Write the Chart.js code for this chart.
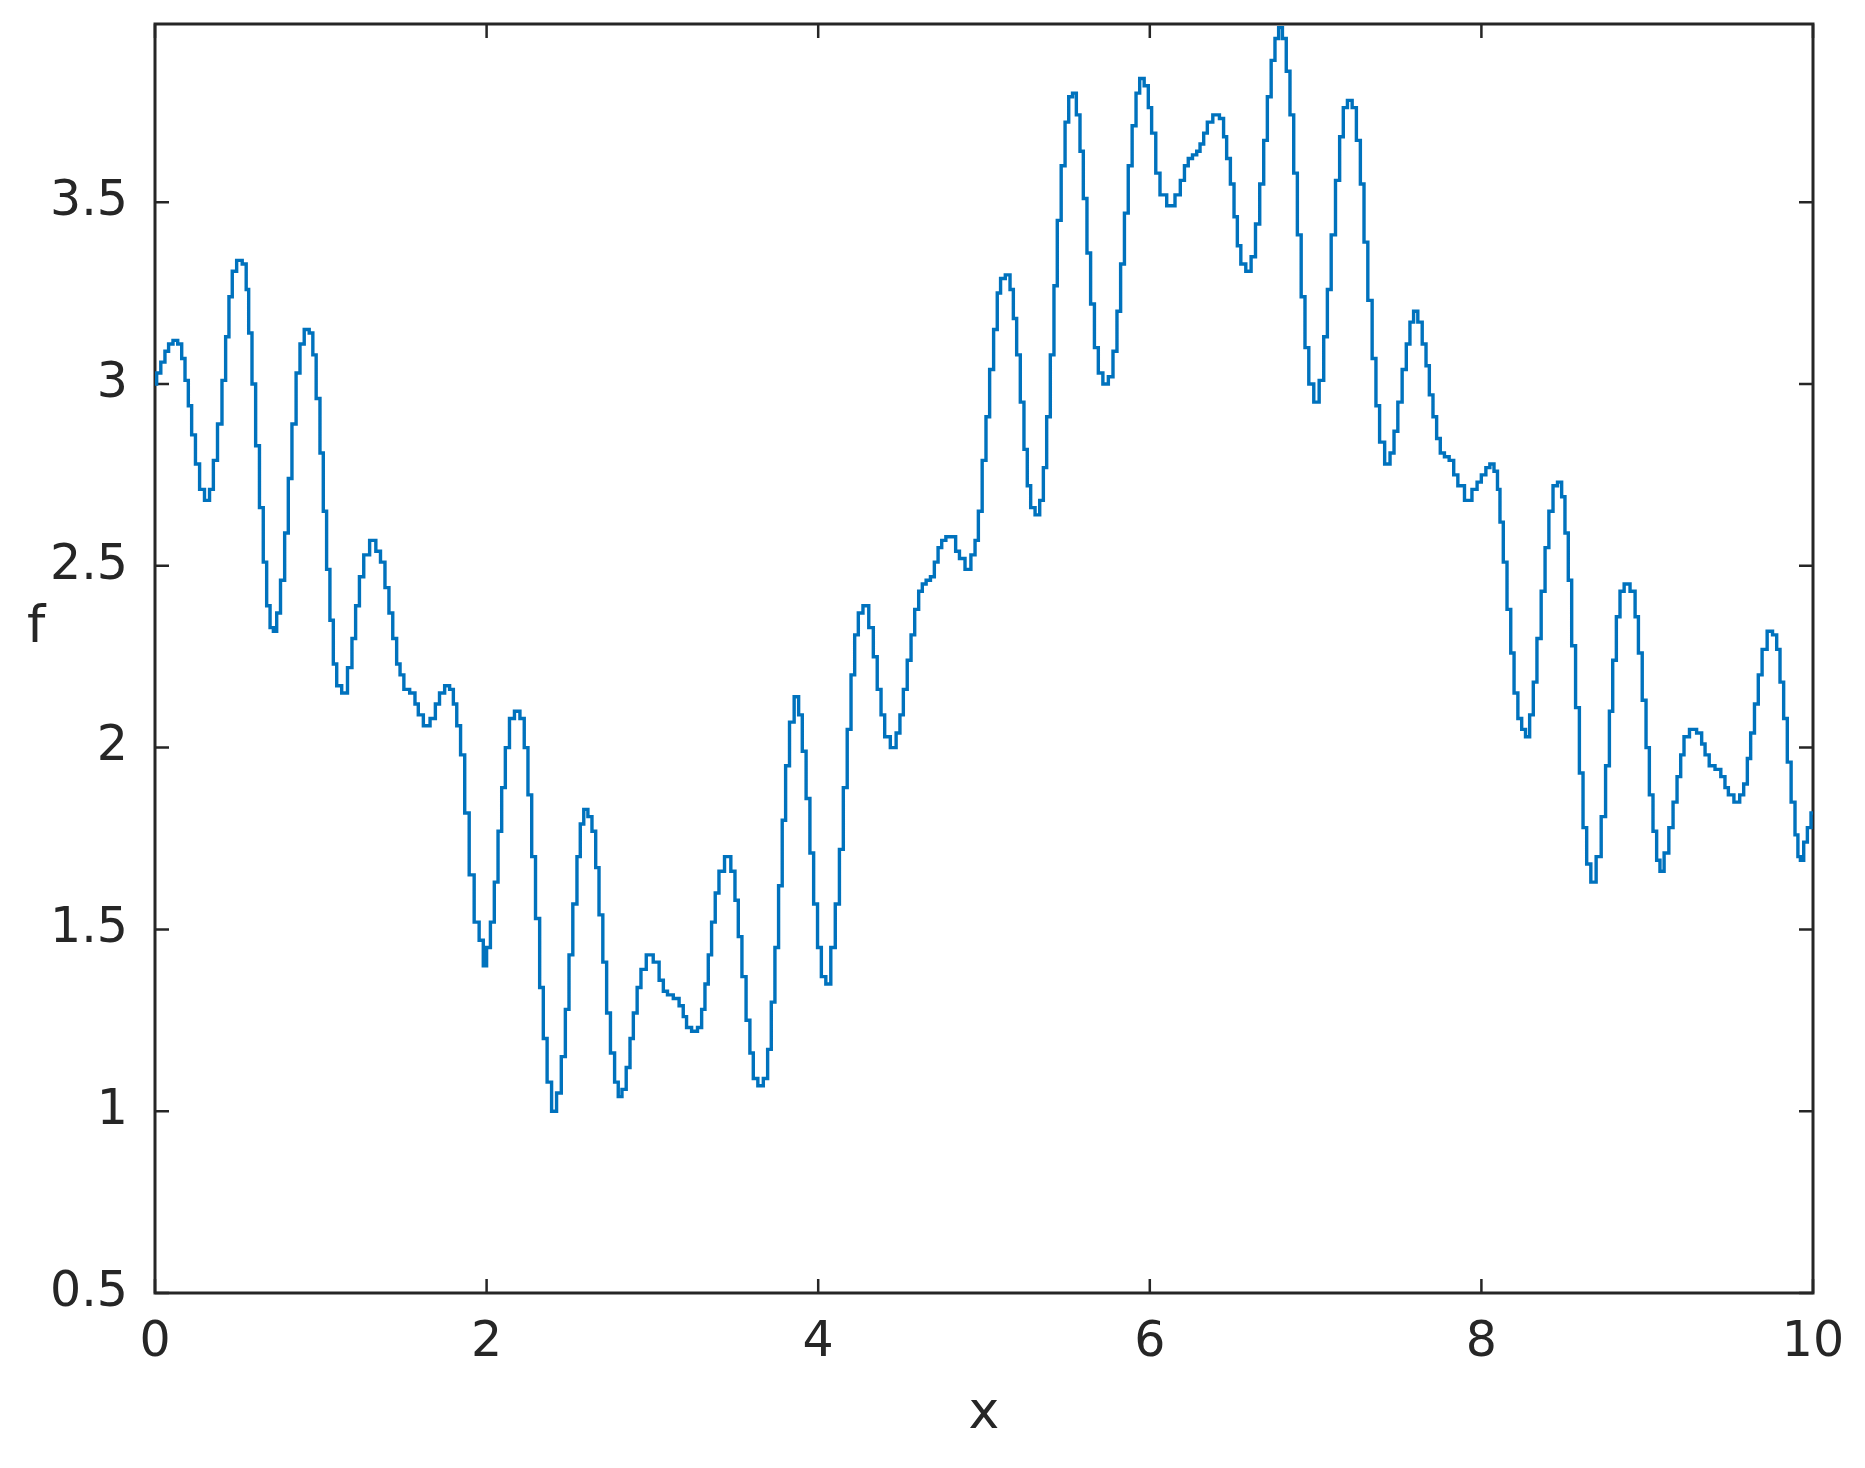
<!DOCTYPE html>
<html>
<head>
<meta charset="utf-8">
<script src="https://cdn.jsdelivr.net/npm/chart.js@4.4.1/dist/chart.umd.min.js"></script>
<style>
  html, body { margin: 0; padding: 0; background: #fff; }
  #wrap { width: 1865px; height: 1468px; }
</style>
</head>
<body>
<div id="wrap"><canvas id="plot" width="1865" height="1468"></canvas></div>
<script>
// x positions (peaks, troughs and points between)
let xValues = [
    0, 0.02, 0.05, 0.07, 0.094, 0.123, 0.151, 0.171, 0.191, 0.211,
    0.231, 0.257, 0.281, 0.316, 0.342, 0.362, 0.392, 0.416, 0.436, 0.456,
    0.476, 0.509, 0.543, 0.557, 0.573, 0.597, 0.617, 0.643, 0.663, 0.684,
    0.704, 0.724, 0.744, 0.77, 0.794, 0.814, 0.838, 0.864, 0.885, 0.915,
    0.945, 0.959, 0.985, 1.005, 1.025, 1.045, 1.065, 1.086, 1.106, 1.146,
    1.176, 1.2, 1.22, 1.246, 1.272, 1.317, 1.347, 1.373, 1.401, 1.421,
    1.447, 1.468, 1.488, 1.514, 1.558, 1.578, 1.598, 1.639, 1.679, 1.703,
    1.729, 1.765, 1.789, 1.81, 1.83, 1.856, 1.88, 1.91, 1.94, 1.97,
    1.99, 2.01, 2.036, 2.057, 2.081, 2.101, 2.125, 2.151, 2.185, 2.217,
    2.237, 2.262, 2.282, 2.308, 2.332, 2.352, 2.378, 2.406, 2.438, 2.463,
    2.487, 2.507, 2.533, 2.557, 2.573, 2.599, 2.623, 2.648, 2.668, 2.688,
    2.714, 2.734, 2.76, 2.784, 2.804, 2.829, 2.855, 2.875, 2.895, 2.921,
    2.941, 2.985, 3.025, 3.056, 3.076, 3.106, 3.146, 3.176, 3.196, 3.216,
    3.257, 3.287, 3.307, 3.327, 3.347, 3.367, 3.391, 3.412, 3.458, 3.488,
    3.508, 3.528, 3.552, 3.578, 3.598, 3.619, 3.653, 3.685, 3.705, 3.729,
    3.749, 3.773, 3.793, 3.814, 3.84, 3.87, 3.894, 3.914, 3.94, 3.96,
    3.985, 4.007, 4.031, 4.061, 4.091, 4.115, 4.141, 4.162, 4.188, 4.208,
    4.232, 4.252, 4.288, 4.322, 4.343, 4.369, 4.389, 4.413, 4.457, 4.483,
    4.503, 4.524, 4.55, 4.57, 4.594, 4.618, 4.638, 4.664, 4.69, 4.711,
    4.735, 4.755, 4.785, 4.819, 4.839, 4.865, 4.906, 4.936, 4.956, 4.976,
    5.002, 5.022, 5.046, 5.07, 5.09, 5.11, 5.147, 5.167, 5.187, 5.207,
    5.231, 5.251, 5.271, 5.292, 5.324, 5.348, 5.368, 5.388, 5.412, 5.432,
    5.452, 5.479, 5.499, 5.523, 5.545, 5.569, 5.589, 5.609, 5.633, 5.653,
    5.679, 5.70, 5.734, 5.766, 5.79, 5.814, 5.834, 5.86, 5.88, 5.907,
    5.927, 5.951, 5.981, 6.001, 6.021, 6.051, 6.072, 6.132, 6.172, 6.196,
    6.222, 6.242, 6.273, 6.293, 6.313, 6.337, 6.357, 6.403, 6.437, 6.453,
    6.474, 6.498, 6.518, 6.538, 6.56, 6.598, 6.624, 6.651, 6.675, 6.699,
    6.719, 6.745, 6.765, 6.789, 6.811, 6.835, 6.856, 6.88, 6.90, 6.926,
    6.946, 6.972, 7.006, 7.037, 7.061, 7.081, 7.107, 7.133, 7.157, 7.177,
    7.207, 7.234, 7.258, 7.282, 7.302, 7.328, 7.354, 7.374, 7.398, 7.435,
    7.463, 7.483, 7.509, 7.535, 7.559, 7.579, 7.603, 7.63, 7.656, 7.676,
    7.696, 7.72, 7.74, 7.764, 7.79, 7.821, 7.845, 7.871, 7.925, 7.961,
    7.987, 8.012, 8.042, 8.06, 8.092, 8.102, 8.122, 8.142, 8.167, 8.187,
    8.207, 8.233, 8.253, 8.279, 8.303, 8.323, 8.347, 8.374, 8.394, 8.42,
    8.444, 8.474, 8.494, 8.514, 8.534, 8.555, 8.581, 8.601, 8.625, 8.645,
    8.675, 8.709, 8.736, 8.762, 8.782, 8.802, 8.826, 8.846, 8.876, 8.917,
    8.937, 8.957, 8.983, 9.003, 9.023, 9.047, 9.067, 9.087, 9.117, 9.144,
    9.168, 9.192, 9.212, 9.232, 9.278, 9.318, 9.339, 9.359, 9.389, 9.429,
    9.459, 9.479, 9.50, 9.546, 9.57, 9.594, 9.614, 9.634, 9.66, 9.68,
    9.706, 9.741, 9.771, 9.791, 9.811, 9.835, 9.855, 9.881, 9.902, 9.916,
    9.932, 9.956, 9.976, 10
];

let fValues = [
    3.00, 3.03, 3.06, 3.09, 3.11, 3.12, 3.11, 3.07, 3.01, 2.94,
    2.86, 2.78, 2.71, 2.68, 2.71, 2.79, 2.89, 3.01, 3.13, 3.24,
    3.31, 3.34, 3.33, 3.26, 3.14, 3.00, 2.83, 2.66, 2.51, 2.39,
    2.33, 2.32, 2.37, 2.46, 2.59, 2.74, 2.89, 3.03, 3.11, 3.15,
    3.14, 3.08, 2.96, 2.81, 2.65, 2.49, 2.35, 2.23, 2.17, 2.15,
    2.22, 2.30, 2.39, 2.47, 2.53, 2.57, 2.54, 2.51, 2.44, 2.37,
    2.30, 2.23, 2.20, 2.16, 2.15, 2.12, 2.09, 2.06, 2.08, 2.12,
    2.15, 2.17, 2.16, 2.12, 2.06, 1.98, 1.82, 1.65, 1.52, 1.47,
    1.40, 1.45, 1.52, 1.63, 1.77, 1.89, 2.00, 2.08, 2.10, 2.08,
    2.00, 1.87, 1.70, 1.53, 1.34, 1.20, 1.08, 1.00, 1.05, 1.15,
    1.28, 1.43, 1.57, 1.70, 1.79, 1.83, 1.81, 1.77, 1.67, 1.54,
    1.41, 1.27, 1.16, 1.08, 1.04, 1.06, 1.12, 1.20, 1.27, 1.34,
    1.39, 1.43, 1.41, 1.36, 1.33, 1.32, 1.31, 1.29, 1.26, 1.23,
    1.22, 1.23, 1.28, 1.35, 1.43, 1.52, 1.60, 1.66, 1.70, 1.66,
    1.58, 1.48, 1.37, 1.25, 1.16, 1.09, 1.07, 1.09, 1.17, 1.30,
    1.45, 1.62, 1.80, 1.95, 2.07, 2.14, 2.09, 1.99, 1.86, 1.71,
    1.57, 1.45, 1.37, 1.35, 1.45, 1.57, 1.72, 1.89, 2.05, 2.20,
    2.31, 2.37, 2.39, 2.33, 2.25, 2.16, 2.09, 2.03, 2.00, 2.04,
    2.09, 2.16, 2.24, 2.31, 2.38, 2.43, 2.45, 2.46, 2.47, 2.51,
    2.55, 2.57, 2.58, 2.58, 2.54, 2.52, 2.49, 2.53, 2.57, 2.65,
    2.79, 2.91, 3.04, 3.15, 3.25, 3.29, 3.30, 3.26, 3.18, 3.08,
    2.95, 2.82, 2.72, 2.66, 2.64, 2.68, 2.77, 2.91, 3.08, 3.27,
    3.45, 3.60, 3.72, 3.79, 3.80, 3.74, 3.64, 3.51, 3.36, 3.22,
    3.10, 3.03, 3.00, 3.02, 3.09, 3.20, 3.33, 3.47, 3.60, 3.71,
    3.80, 3.84, 3.82, 3.76, 3.69, 3.58, 3.52, 3.49, 3.52, 3.56,
    3.60, 3.62, 3.63, 3.64, 3.66, 3.69, 3.72, 3.74, 3.73, 3.68,
    3.62, 3.55, 3.46, 3.38, 3.33, 3.31, 3.35, 3.44, 3.55, 3.67,
    3.79, 3.89, 3.95, 3.98, 3.95, 3.86, 3.74, 3.58, 3.41, 3.24,
    3.10, 3.00, 2.95, 3.01, 3.13, 3.26, 3.41, 3.56, 3.68, 3.76,
    3.78, 3.76, 3.67, 3.55, 3.39, 3.23, 3.07, 2.94, 2.84, 2.78,
    2.81, 2.87, 2.95, 3.04, 3.11, 3.17, 3.20, 3.17, 3.11, 3.05,
    2.97, 2.91, 2.85, 2.81, 2.80, 2.79, 2.75, 2.72, 2.68, 2.71,
    2.73, 2.75, 2.77, 2.78, 2.76, 2.71, 2.62, 2.51, 2.38, 2.26,
    2.15, 2.08, 2.05, 2.03, 2.09, 2.18, 2.30, 2.43, 2.55, 2.65,
    2.72, 2.73, 2.69, 2.59, 2.46, 2.28, 2.11, 1.93, 1.78, 1.68,
    1.63, 1.70, 1.81, 1.95, 2.10, 2.24, 2.36, 2.43, 2.45, 2.43,
    2.36, 2.26, 2.13, 2.00, 1.87, 1.77, 1.69, 1.66, 1.71, 1.78,
    1.85, 1.92, 1.98, 2.03, 2.05, 2.04, 2.01, 1.98, 1.95, 1.94,
    1.92, 1.89, 1.87, 1.85, 1.87, 1.90, 1.97, 2.04, 2.12, 2.20,
    2.27, 2.32, 2.31, 2.27, 2.18, 2.08, 1.96, 1.85, 1.76, 1.70,
    1.69, 1.74, 1.78, 1.82
];

let xTicks = [0, 2, 4, 6, 8, 10];
let yTicks = [0.5, 1, 1.5, 2, 2.5, 3, 3.5];

let axisColor = '#262626';
let lineColor = '#0072BD';

// box round the axes with short ticks pointing inward, plus the x and f labels
let boxPlugin = {
    id: 'matlabBox',
    beforeDatasetsDraw(chart) {
        let ctx = chart.ctx;
        let a = chart.chartArea;
        let xs = chart.scales.x;
        let ys = chart.scales.y;
        let len = 14;
        ctx.save();
        ctx.strokeStyle = axisColor;
        ctx.lineWidth = 3;
        ctx.strokeRect(a.left, a.top, a.right - a.left, a.bottom - a.top);
        ctx.lineWidth = 2.5;
        ctx.beginPath();
        xTicks.forEach(v => {
            let px = xs.getPixelForValue(v);
            ctx.moveTo(px, a.bottom);
            ctx.lineTo(px, a.bottom - len);
            ctx.moveTo(px, a.top);
            ctx.lineTo(px, a.top + len);
        });
        yTicks.forEach(v => {
            let py = ys.getPixelForValue(v);
            ctx.moveTo(a.left, py);
            ctx.lineTo(a.left + len, py);
            ctx.moveTo(a.right, py);
            ctx.lineTo(a.right - len, py);
        });
        ctx.stroke();
        ctx.restore();
    },
    afterDraw(chart) {
        let ctx = chart.ctx;
        let a = chart.chartArea;
        ctx.save();
        ctx.fillStyle = axisColor;
        ctx.font = '52px "DejaVu Sans"';
        ctx.textBaseline = 'alphabetic';
        ctx.textAlign = 'center';
        ctx.fillText('x', (a.left + a.right) / 2, 1428);
        ctx.textAlign = 'left';
        ctx.fillText('f', 27, 642);
        ctx.restore();
    }
};

let points = xValues.map((x, i) => ({ x: x, y: fValues[i] }));

let ctx = document.getElementById('plot').getContext('2d');
new Chart(ctx, {
    type: 'line',
    data: {
        datasets: [{
            data: points,
            borderColor: lineColor,
            borderWidth: 3.4,
            pointRadius: 0,
            fill: false,
            stepped: 'middle'
        }]
    },
    options: {
        responsive: false,
        animation: false,
        devicePixelRatio: 1,
        layout: { padding: { top: 24, right: 52, left: 0, bottom: 0 } },
        plugins: {
            legend: { display: false },
            tooltip: { enabled: false }
        },
        scales: {
            x: {
                type: 'linear',
                min: 0,
                max: 10,
                afterBuildTicks: s => { s.ticks = xTicks.map(v => ({ value: v })); },
                afterFit: s => {
                    s.height = 175;
                    s.paddingLeft = 0;
                    s.paddingRight = 0;
                },
                grid: { display: false, drawTicks: false },
                border: { display: false },
                ticks: {
                    color: axisColor,
                    font: { family: 'DejaVu Sans', size: 49 },
                    padding: 21,
                    maxRotation: 0,
                    autoSkip: false,
                    callback: v => String(v)
                }
            },
            y: {
                type: 'linear',
                min: 0.5,
                max: 3.99,
                afterBuildTicks: s => { s.ticks = yTicks.map(v => ({ value: v })); },
                afterFit: s => {
                    s.width = 155;
                    s.paddingTop = 0;
                    s.paddingBottom = 0;
                },
                grid: { display: false, drawTicks: false },
                border: { display: false },
                ticks: {
                    color: axisColor,
                    font: { family: 'DejaVu Sans', size: 49 },
                    padding: 27,
                    autoSkip: false,
                    callback: v => String(v)
                }
            }
        }
    },
    plugins: [boxPlugin]
});
</script>
</body>
</html>
